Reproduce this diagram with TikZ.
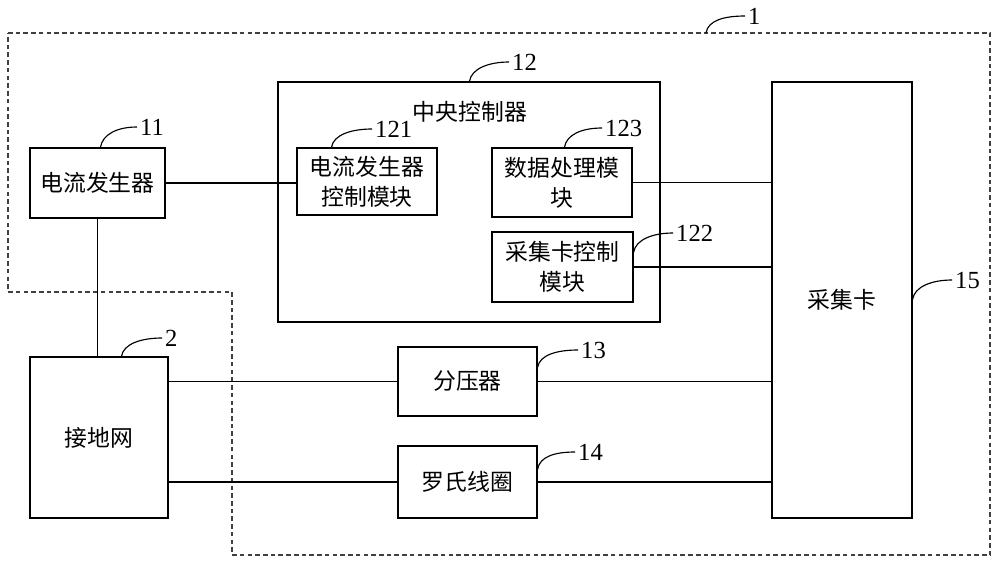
\documentclass[tikz,border=0pt]{standalone}
\usepackage{fontspec}
\setmainfont{Liberation Serif}
\newfontfamily\cjk{Noto Sans CJK SC}
\usepackage{tikz}
\usetikzlibrary{calc}

\begin{document}
\begin{tikzpicture}[
  x=0.02cm, y=-0.02cm,
  line width=0.65pt,
  every block/.style={draw, inner sep=0pt, align=center, font=\cjk\fontsize{13}{17}\selectfont},
  block/.style 2 args={every block, minimum width=#1*0.02cm, minimum height=#2*0.02cm},
  tag/.style={anchor=west, inner sep=1.5pt, font=\fontsize{14}{16}\selectfont},
  leader/.style={to path={.. controls +(2,-13) and +(-20,0) .. (\tikztotarget)}},
  border/.style={dash pattern=on 2.6pt off 1.8pt, draw=black!75},
]
\useasboundingbox (0,0) rectangle (1000,562);

% outer dashed frame
\draw[border] (8,33) -- (990,33) -- (990,555) -- (232,555) -- (232,292) -- (8,292) -- cycle;
\coordinate (s1) at (706,33);

% blocks
\node[block={135}{70}] (gen) at (97.5,183) {电流发生器};
\node[block={382}{240}] (cpu) at (469,202) {};
\node[font=\cjk\fontsize{13}{17}\selectfont] (cpuname) at ($(cpu.north)+(1,30)$) {中央控制器};
\node[block={140}{67}] (gctl) at (367,181.5) {电流发生器\\控制模块};
\node[block={140}{69}] (dproc) at (562,182.5) {数据处理模\\块};
\node[block={141}{70}] (actl) at (562.5,267) {采集卡控制\\模块};
\node[block={140}{436}] (card) at (842,300) {采集卡};
\node[block={138}{161}] (grid) at (99,437.5) {接地网};
\node[block={139}{69}] (div) at (467.5,381.5) {分压器};
\node[block={139}{72}] (coil) at (467.5,482) {罗氏线圈};

% connections
\draw (gen.east) -- (gen.east -| gctl.west);
\draw (gen.south) -- (gen.south |- grid.north);
\draw (dproc.east) -- (dproc.east -| card.west);
\draw (actl.east) -- (actl.east -| card.west);
\draw (div.west -| grid.east) -- (div.west);
\draw (div.east) -- (div.east -| card.west);
\draw (coil.west -| grid.east) -- (coil.west);
\draw (coil.east) -- (coil.east -| card.west);

% reference numbers
\coordinate (s11) at ($(gen.north west)+(71,0)$);
\coordinate (s12) at ($(cpu.north west)+(192,0)$);
\coordinate (s121) at ($(gctl.north west)+(35,0)$);
\coordinate (s123) at ($(dproc.north west)+(73,0)$);
\coordinate (s122) at ($(actl.north east)+(0,21)$);
\coordinate (s15) at ($(card.north east)+(0,218)$);
\coordinate (s2) at ($(grid.north west)+(92,0)$);
\coordinate (s13) at ($(div.north east)+(0,21)$);
\coordinate (s14) at ($(coil.north east)+(0,24)$);

\node[tag] (t1) at (745,16) {1};
\node[tag] (t11) at (137,127) {11};
\node[tag] (t12) at (509,62) {12};
\node[tag] (t121) at (372,129) {121};
\node[tag] (t123) at (602,128) {123};
\node[tag] (t122) at (673,233) {122};
\node[tag] (t15) at (952,280) {15};
\node[tag] (t2) at (162,338) {2};
\node[tag] (t13) at (578,350) {13};
\node[tag] (t14) at (575,452) {14};

\foreach \k in {1,11,12,121,123,122,15,2,13,14}
  \draw (s\k) to[leader] (t\k.west);
\end{tikzpicture}
\end{document}
